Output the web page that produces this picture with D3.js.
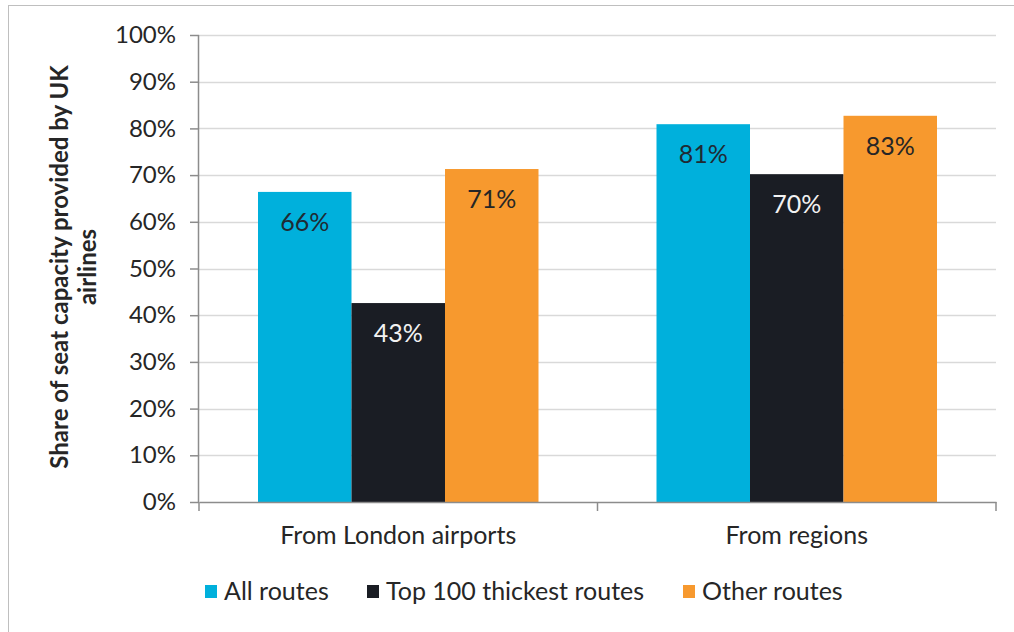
<!DOCTYPE html>
<html>
<head>
<meta charset="utf-8">
<script src="https://cdn.jsdelivr.net/npm/d3@7"></script>
<style>
  body { margin: 0; background: #fff; }
  text { font-family: Lato, "Open Sans", sans-serif; fill: #262626; }
</style>
</head>
<body>
<div id="chart"></div>
<script>
const categories = ['From London airports', 'From regions'];
const seriesNames = ['All routes', 'Top 100 thickest routes', 'Other routes'];
const allRoutes = [66.4, 80.9];
const top100 = [42.6, 70.2];
const otherRoutes = [71.3, 82.7];
const barLabels = [['66%', '43%', '71%'], ['81%', '70%', '83%']];
const yTicks = [0, 10, 20, 30, 40, 50, 60, 70, 80, 90, 100];

const colors = ['#00b0dc', '#1a1d24', '#f7992e'];
const labelColors = ['#1f2a33', '#f2f2f2', '#262626'];

const width = 1014, height = 632;
const margin = {top: 35, left: 199};
const plotW = 996 - margin.left;
const plotH = 502 - margin.top;

const svg = d3.select('#chart').append('svg')
  .attr('width', width)
  .attr('height', height);

// outer frame (only top and left edges show)
svg.append('line').attr('x1', 8).attr('x2', width).attr('y1', 5.5).attr('y2', 5.5)
  .attr('stroke', '#bfbfbf').attr('stroke-width', 1);
svg.append('line').attr('x1', 8.5).attr('x2', 8.5).attr('y1', 5).attr('y2', height)
  .attr('stroke', '#bfbfbf').attr('stroke-width', 1);

const g = svg.append('g').attr('transform', `translate(${margin.left},${margin.top})`);

const x0 = d3.scaleBand().domain(categories).range([0, plotW]);
const x1 = d3.scaleBand().domain(d3.range(3)).range([59, x0.bandwidth() - 59]);
const y = d3.scaleLinear().domain([0, 100]).range([plotH, 0]);

// gridlines
g.append('g').selectAll('line').data(yTicks.slice(1)).join('line')
  .attr('x1', 0).attr('x2', plotW)
  .attr('y1', d => Math.round(y(d)) + 0.5).attr('y2', d => Math.round(y(d)) + 0.5)
  .attr('stroke', '#d9d9d9').attr('stroke-width', 1.5);

// bars
const rows = categories.map((c, i) => ({cat: c, vals: [allRoutes[i], top100[i], otherRoutes[i]], labels: barLabels[i]}));
const grp = g.selectAll('.grp').data(rows).join('g')
  .attr('transform', d => `translate(${x0(d.cat)},0)`);

grp.selectAll('rect').data(d => d.vals).join('rect')
  .attr('x', (d, i) => x1(i))
  .attr('width', x1.bandwidth())
  .attr('y', d => y(d))
  .attr('height', d => plotH - y(d))
  .attr('fill', (d, i) => colors[i]);

grp.selectAll('text').data(d => d.vals.map((v, i) => ({v, i, t: d.labels[i]}))).join('text')
  .attr('x', d => x1(d.i) + x1.bandwidth() / 2)
  .attr('y', d => y(d.v) + 39)
  .attr('text-anchor', 'middle')
  .style('font-size', '25px')
  .style('fill', d => labelColors[d.i])
  .text(d => d.t);

// y axis
const yAxis = g.append('g')
  .call(d3.axisLeft(y).tickValues(yTicks).tickSize(9).tickPadding(14).tickFormat(d => d + '%'));
yAxis.select('.domain').attr('stroke', '#8c8c8c').attr('stroke-width', 1.5).attr('d', `M-0.5,0V${plotH}`);
yAxis.selectAll('.tick line').attr('stroke', '#8c8c8c').attr('stroke-width', 1.5);
yAxis.selectAll('.tick text').style('font-size', '24px').style('fill', '#262626')
  .style('font-family', 'Lato, "Open Sans", sans-serif');

// x axis
const xAxis = g.append('g').attr('transform', `translate(0,${plotH})`)
  .call(d3.axisBottom(x0).tickSize(0).tickPadding(24));
xAxis.select('.domain').attr('stroke', '#8c8c8c').attr('stroke-width', 1.5);
xAxis.selectAll('.tick text').style('font-size', '25px').style('fill', '#262626')
  .style('font-family', 'Lato, "Open Sans", sans-serif');
g.append('g').selectAll('line').data([0, x0.bandwidth(), plotW]).join('line')
  .attr('x1', d => d).attr('x2', d => d)
  .attr('y1', plotH).attr('y2', plotH + 9)
  .attr('stroke', '#8c8c8c').attr('stroke-width', 1.5);

// y title
const yt = svg.append('text')
  .attr('transform', `translate(68,267) rotate(-90)`)
  .attr('text-anchor', 'middle')
  .style('font-size', '24px')
  .style('font-weight', 'bold');
yt.append('tspan').attr('x', 0).attr('dy', 0).text('Share of seat capacity provided by UK');
yt.append('tspan').attr('x', 0).attr('dy', 28).text('airlines');

// legend
const legendX = [205, 367, 683];
const leg = svg.append('g').selectAll('g').data(seriesNames).join('g')
  .attr('transform', (d, i) => `translate(${legendX[i]},585)`);
leg.append('rect').attr('width', 12).attr('height', 13).attr('fill', (d, i) => colors[i]);
leg.append('text').attr('x', 19).attr('y', 15)
  .style('font-size', '25px').text(d => d);
</script>
</body>
</html>
